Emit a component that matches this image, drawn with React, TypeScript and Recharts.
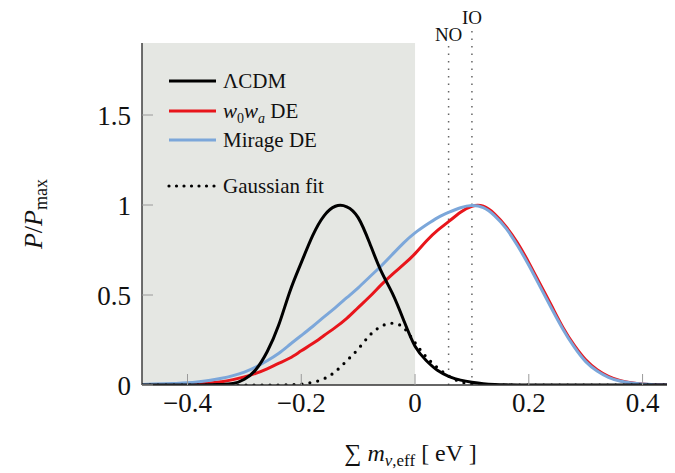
import React from 'react';
import { LineChart, Line, XAxis, YAxis, ReferenceArea, ReferenceLine, Legend } from 'recharts';

const FONT = '"Liberation Serif", "DejaVu Serif", serif';

// sum of neutrino masses [eV], common grid for all curves
const sumMass = [
  -0.48, -0.46, -0.44, -0.42, -0.4, -0.38, -0.36, -0.34, -0.32, -0.3, -0.28, -0.26,
  -0.24, -0.22, -0.2, -0.18, -0.16, -0.14, -0.12, -0.1, -0.08, -0.06, -0.04, -0.02,
  0, 0.02, 0.04, 0.06, 0.08, 0.1, 0.12, 0.14, 0.16, 0.18, 0.2, 0.22,
  0.24, 0.26, 0.28, 0.3, 0.32, 0.34, 0.36, 0.38, 0.4, 0.42, 0.44, 0.46,
];

const lcdm = [
  0, 0, 0, 0, 0, 0.0005, 0.001, 0.003, 0.008, 0.032, 0.085, 0.185,
  0.33, 0.52, 0.68, 0.83, 0.94, 0.993, 0.99, 0.93, 0.79, 0.635, 0.51, 0.36,
  0.215, 0.135, 0.08, 0.047, 0.027, 0.015, 0.007, 0.003, 0.001, 0, 0, 0,
  0, 0, 0, 0, 0, 0, 0, 0, 0, 0, 0, 0,
];

const w0wa = [
  0.001, 0.001, 0.002, 0.002, 0.003, 0.006, 0.011, 0.018, 0.03, 0.045, 0.065, 0.09,
  0.12, 0.15, 0.19, 0.23, 0.275, 0.32, 0.37, 0.43, 0.49, 0.555, 0.615, 0.67,
  0.73, 0.8, 0.86, 0.91, 0.96, 0.993, 0.993, 0.95, 0.88, 0.79, 0.68, 0.56,
  0.44, 0.32, 0.22, 0.14, 0.085, 0.048, 0.025, 0.013, 0.006, 0.002, 0.001, 0,
];

const mirage = [
  0.003, 0.005, 0.007, 0.009, 0.012, 0.018, 0.026, 0.037, 0.052, 0.072, 0.1, 0.135,
  0.175, 0.225, 0.275, 0.325, 0.378, 0.43, 0.485, 0.54, 0.6, 0.66, 0.725, 0.79,
  0.845, 0.89, 0.93, 0.96, 0.985, 0.997, 0.985, 0.94, 0.87, 0.775, 0.665, 0.545,
  0.425, 0.31, 0.21, 0.13, 0.078, 0.043, 0.022, 0.011, 0.005, 0.002, 0.001, 0,
];

const gaussFit = [
  0, 0, 0, 0, 0, 0, 0, 0, 0, 0, 0, 0,
  0, 0.001, 0.005, 0.015, 0.035, 0.075, 0.135, 0.2, 0.275, 0.325, 0.343, 0.318,
  0.235, 0.155, 0.095, 0.048, 0.018, 0.005, 0.001, 0, 0, 0, 0, 0,
  0, 0, 0, 0, 0, 0, 0, 0, 0, 0, 0, 0,
];

const xTicks = [-0.4, -0.2, 0, 0.2, 0.4];
const yTicks = [0, 0.5, 1, 1.5];
const xDomain = [-0.48, 0.457];
const yDomain = [0, 1.9];

const rows = sumMass.map((x, i) => ({
  x,
  lcdm: lcdm[i],
  w0wa: w0wa[i],
  mirage: mirage[i],
  gauss: gaussFit[i],
}));

const RED = '#e8151b';
const BLUE = '#7ca7da';

const fmt = (v: number) => (v < 0 ? '\u2212' : '') + String(Math.abs(v));

const legendRows = [
  { key: 'lcdm', color: '#000', dash: undefined, y: 18 },
  { key: 'w0wa', color: RED, dash: undefined, y: 48 },
  { key: 'mirage', color: BLUE, dash: undefined, y: 77 },
  { key: 'gauss', color: '#000', dash: '0 7.5', y: 123 },
];

const legendText = (key: string) => {
  if (key === 'lcdm') return <tspan>ΛCDM</tspan>;
  if (key === 'w0wa')
    return (
      <>
        <tspan fontStyle="italic">w</tspan>
        <tspan fontSize={14} dy={5}>0</tspan>
        <tspan fontStyle="italic" dy={-5}>w</tspan>
        <tspan fontStyle="italic" fontSize={14} dy={5}>a</tspan>
        <tspan dy={-5}> DE</tspan>
      </>
    );
  if (key === 'mirage') return <tspan>Mirage DE</tspan>;
  return <tspan>Gaussian fit</tspan>;
};

const LegendBox = () => (
  <svg width={220} height={140} style={{ display: 'block' }}>
    {legendRows.map((r) => (
      <g key={r.key}>
        <line
          x1={11}
          x2={58}
          y1={r.y}
          y2={r.y}
          stroke={r.color}
          strokeWidth={r.dash ? 3.2 : 3}
          strokeDasharray={r.dash}
          strokeLinecap={r.dash ? 'round' : 'butt'}
        />
        <text x={65} y={r.y + 7} fontSize={21} fontFamily={FONT} fill="#111">
          {legendText(r.key)}
        </text>
      </g>
    ))}
  </svg>
);

const XLabel = (props: any) => {
  const vb = props.viewBox || { x: 134, y: 377, width: 533, height: 88 };
  const cx = vb.x + vb.width / 2 + 2;
  const y = vb.y + 76;
  return (
    <text x={cx} y={y} textAnchor="middle" fontSize={24} fontFamily={FONT} fill="#111">
      <tspan>∑ </tspan>
      <tspan fontStyle="italic">m</tspan>
      <tspan fontStyle="italic" fontSize={17} dy={5}>ν</tspan>
      <tspan fontSize={17}>,eff</tspan>
      <tspan dy={-5}> [ eV ]</tspan>
    </text>
  );
};

const YLabel = (props: any) => {
  const vb = props.viewBox || { x: 0, y: 35, width: 134, height: 342 };
  const bx = vb.x + 34;
  const cy = vb.y + vb.height / 2;
  return (
    <text
      x={bx}
      y={cy}
      transform={`rotate(-90, ${bx}, ${cy})`}
      textAnchor="middle"
      fontSize={26}
      fontFamily={FONT}
      fill="#111"
    >
      <tspan fontStyle="italic">P</tspan>
      <tspan>/</tspan>
      <tspan fontStyle="italic">P</tspan>
      <tspan fontSize={18} dy={5}>max</tspan>
    </text>
  );
};

const tickStyle = { fontSize: 27, fill: '#111', fontFamily: FONT };
const axisStroke = { stroke: '#333', strokeWidth: 1.4 };
const tickStroke = { stroke: '#9a9a9a', strokeWidth: 1 };

export default function App() {
  return (
    <div style={{ width: 667, height: 465 }}>
      <LineChart width={667} height={465} data={rows} margin={{ top: 35, right: 0, bottom: 0, left: 0 }}>
        <ReferenceArea x1={-0.48} x2={0} fill="#e5e7e3" fillOpacity={1} stroke="none" ifOverflow="hidden" />
        <XAxis
          dataKey="x"
          type="number"
          domain={xDomain}
          ticks={xTicks}
          allowDataOverflow
          height={88}
          tickSize={-11}
          tickMargin={19}
          tickFormatter={fmt}
          tick={tickStyle}
          axisLine={axisStroke}
          tickLine={tickStroke}
          label={(p: any) => <XLabel {...p} />}
        />
        <XAxis
          xAxisId="top"
          orientation="top"
          dataKey="x"
          type="number"
          domain={xDomain}
          ticks={xTicks}
          allowDataOverflow
          height={0}
          tickSize={-11}
          tick={false}
          axisLine={axisStroke}
          tickLine={tickStroke}
        />
        <YAxis
          type="number"
          domain={yDomain}
          ticks={yTicks}
          allowDataOverflow
          width={134}
          tickSize={-11}
          tickMargin={22}
          tickFormatter={fmt}
          tick={tickStyle}
          axisLine={axisStroke}
          tickLine={tickStroke}
          label={(p: any) => <YLabel {...p} />}
        />
        <ReferenceLine
          x={0.059}
          stroke="#666"
          strokeWidth={1.5}
          strokeDasharray="1.5 6"
          label={{ value: 'NO', position: 'top', offset: 2, fontSize: 19, fontFamily: FONT, fill: '#111' }}
        />
        <ReferenceLine
          segment={[{ x: 0.1, y: 0 }, { x: 0.1, y: 2.0 }]}
          ifOverflow="visible"
          stroke="#666"
          strokeWidth={1.5}
          strokeDasharray="1.5 6"
          label={{ value: 'IO', position: 'top', offset: 1, fontSize: 19, fontFamily: FONT, fill: '#111' }}
        />
        <Line type="natural" dataKey="w0wa" stroke={RED} strokeWidth={3} dot={false} isAnimationActive={false} />
        <Line type="natural" dataKey="mirage" stroke={BLUE} strokeWidth={3} dot={false} isAnimationActive={false} />
        <Line type="natural" dataKey="lcdm" stroke="#000" strokeWidth={3} dot={false} isAnimationActive={false} />
        <Line
          type="natural"
          dataKey="gauss"
          stroke="#000"
          strokeWidth={3.2}
          strokeDasharray="0 8"
          strokeLinecap="round"
          dot={false}
          isAnimationActive={false}
        />
        <Legend
          layout="vertical"
          align="center"
          verticalAlign="middle"
          wrapperStyle={{ left: 150, top: 55, width: 220, height: 140 }}
          content={() => <LegendBox />}
        />
      </LineChart>
    </div>
  );
}
